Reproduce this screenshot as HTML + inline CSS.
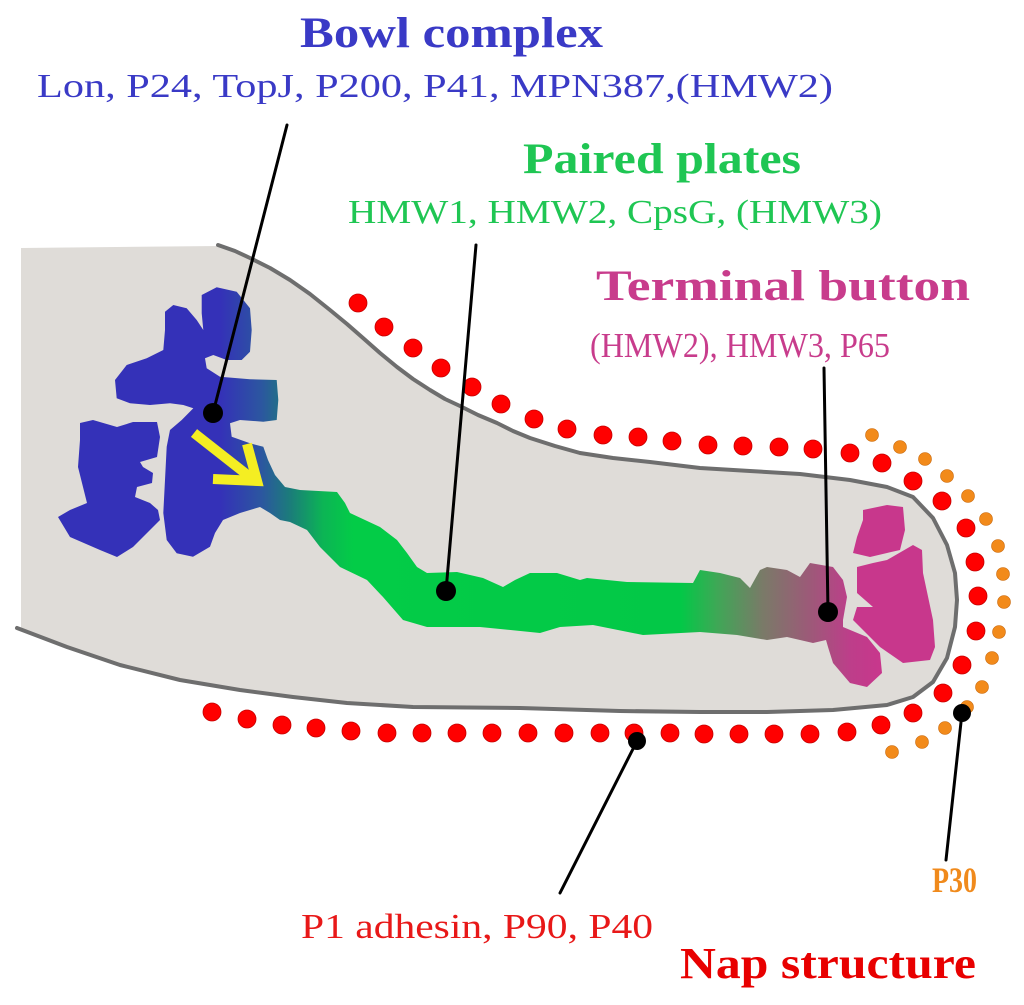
<!DOCTYPE html>
<html>
<head>
<meta charset="utf-8">
<style>
  html,body{margin:0;padding:0;background:#ffffff;}
  body{width:1024px;height:1005px;overflow:hidden;}
  svg{display:block;}
  text{font-family:"Liberation Serif", serif;}
</style>
</head>
<body>
<svg width="1024" height="1005" viewBox="0 0 1024 1005" xmlns="http://www.w3.org/2000/svg">
  <defs>
    <linearGradient id="grad" gradientUnits="userSpaceOnUse" x1="0" y1="0" x2="1024" y2="0">
      <stop offset="0" stop-color="#3431b8"/>
      <stop offset="0.215" stop-color="#3431b8"/>
      <stop offset="0.255" stop-color="#2c56a0"/>
      <stop offset="0.285" stop-color="#1a7f78"/>
      <stop offset="0.315" stop-color="#0cb455"/>
      <stop offset="0.345" stop-color="#03cc47"/>
      <stop offset="0.665" stop-color="#03c847"/>
      <stop offset="0.70" stop-color="#3ea856"/>
      <stop offset="0.745" stop-color="#7a7a68"/>
      <stop offset="0.79" stop-color="#9c5a78"/>
      <stop offset="0.83" stop-color="#bd3e8a"/>
      <stop offset="0.86" stop-color="#c8378c"/>
      <stop offset="1" stop-color="#c8378c"/>
    </linearGradient>
  </defs>

  <!-- capsule fill -->
  <polygon fill="#dfdcd8" points="21,248 218,246 235,251 250,258 270,268 290,280 310,294 330,310 347,324 363,338 380,353 397,367 413,379 430,390 445,399 460,406 478,415 497,423 513,431 530,438 555,446 580,453 613,458 650,462 700,468 750,471 800,474 850,480 887,487 913,497 933,518 947,545 955,573 957,600 955,627 947,658 933,682 913,697 887,705 833,710 767,712 700,712 620,711 520,708 413,707 347,703 293,697 240,690 180,680 120,665 67,647 17,628 21,628"/>
  <!-- capsule outline -->
  <polyline fill="none" stroke="#6e6e6e" stroke-width="4" stroke-linejoin="round" stroke-linecap="round" points="218,245 235,251 250,258 270,268 290,280 310,294 330,310 347,324 363,338 380,353 397,367 413,379 430,390 445,399 460,406 478,415 497,423 513,431 530,438 555,446 580,453 613,458 650,462 700,468 750,471 800,474 850,480 887,487 913,497 933,518 947,545 955,573 957,600 955,627 947,658 933,682 913,697 887,705 833,710 767,712 700,712 620,711 520,708 413,707 347,703 293,697 240,690 180,680 120,665 67,647 17,628"/>

  <!-- main gradient shape: bowl + plates + button base -->
  <polygon fill="url(#grad)" points="201.7,295 216.7,287.3 236.7,291.7 250,308.3 251.7,330 250,351.7 241.7,360 226.7,360 213.3,355 205,358.3 206.7,368.3 220,376.7 250,379.3 276.7,380 278.3,400 276.7,420 263.3,421.7 240,420 230,423.3 231.7,436.7 250,443.3 263.3,446.7 268,460 275,475 285,487 300,490 337,492 345,503 350,513 365,520 380,527 397,540 407,553 417,567 427,573 457,572 483,578 503,587 515,580 530,573 557,573 580,580 587,578 627,582 693,583 700,570 720,573 740,578 750,588 760,570 767,567 787,570 800,577 810,563 833,567 843,580 847,597 843,620 843,627 867,637 880,653 882,673 867,687 850,683 833,663 828,647 826,640 813,643 787,637 767,640 737,635 700,632 643,635 593,625 560,627 540,633 480,627 427,627 403,620 383,597 367,580 340,567 320,547 307,530 290,522 280,520 270,513 260,507 250,510 240,513 223,520 215,533 210,546.7 193,556.7 176.7,553.3 166.7,540 163.3,513 165,480 166.7,446.7 170,430 181.7,420 193.3,408.3 183.3,405 170,403.3 150,405 130,403.3 116.7,398.3 115,380 126.7,365 146.7,358.3 163.3,350 165,330 165,311.7 173.3,305 186.7,308.3 196.7,320 203.3,330 201.7,313.3"/>

  <!-- E piece -->
  <polygon fill="#3431b8" points="80,423 93,420 117,427 133,422 157,422 160,437 157,457 140,462 143,467 153,473 152,483 137,487 135,497 150,503 158,510 160,520 147,533 133,547 117,557 100,550 70,537 58,517 70,510 87,503 83,487 78,467 80,440"/>

  <!-- magenta pieces -->
  <polygon fill="#c8378c" points="863,510 887,505 903,507 905,530 900,550 887,553 870,557 853,553 857,537 863,520"/>
  <polygon fill="#c8378c" points="873,563 887,560 913,545 922,550 923,573 933,620 935,647 930,660 903,663 880,647 853,620 857,607 873,607 857,593 857,567"/>

  <!-- yellow arrow -->
  <g stroke="#f4ee22" stroke-width="10" fill="none" stroke-linecap="butt" stroke-linejoin="miter">
    <line x1="194" y1="433" x2="250" y2="477"/>
    <polyline points="213,479 257,481 247,444"/>
  </g>

  <!-- red dots -->
  <g fill="#ff0000" stroke="#c40000" stroke-width="0.8">
    <circle cx="358" cy="303" r="9"/><circle cx="384" cy="327" r="9"/><circle cx="413" cy="348" r="9"/>
    <circle cx="441" cy="368" r="9"/><circle cx="472" cy="387" r="9"/><circle cx="501" cy="404" r="9"/>
    <circle cx="534" cy="419" r="9"/><circle cx="567" cy="429" r="9"/><circle cx="603" cy="435" r="9"/>
    <circle cx="638" cy="437" r="9"/><circle cx="672" cy="441" r="9"/><circle cx="708" cy="445" r="9"/>
    <circle cx="743" cy="446" r="9"/><circle cx="779" cy="447" r="9"/><circle cx="813" cy="449" r="9"/>
    <circle cx="850" cy="453" r="9"/><circle cx="882" cy="463" r="9"/><circle cx="913" cy="481" r="9"/>
    <circle cx="942" cy="501" r="9"/><circle cx="966" cy="528" r="9"/><circle cx="975" cy="562" r="9"/>
    <circle cx="978" cy="596" r="9"/><circle cx="976" cy="631" r="9"/><circle cx="962" cy="665" r="9"/>
    <circle cx="943" cy="693" r="9"/><circle cx="913" cy="713" r="9"/><circle cx="881" cy="725" r="9"/>
    <circle cx="847" cy="732" r="9"/><circle cx="810" cy="734" r="9"/><circle cx="774" cy="734" r="9"/>
    <circle cx="739" cy="734" r="9"/><circle cx="704" cy="734" r="9"/><circle cx="670" cy="733" r="9"/>
    <circle cx="634" cy="733" r="9"/><circle cx="600" cy="733" r="9"/><circle cx="564" cy="733" r="9"/>
    <circle cx="528" cy="733" r="9"/><circle cx="492" cy="733" r="9"/><circle cx="457" cy="733" r="9"/>
    <circle cx="422" cy="733" r="9"/><circle cx="387" cy="733" r="9"/><circle cx="351" cy="731" r="9"/>
    <circle cx="316" cy="728" r="9"/><circle cx="282" cy="725" r="9"/><circle cx="247" cy="719" r="9"/>
    <circle cx="212" cy="712" r="9"/>
  </g>

  <!-- orange dots -->
  <g fill="#f28a1a" stroke="#c86a10" stroke-width="0.6">
    <circle cx="872" cy="435" r="6.5"/><circle cx="900" cy="447" r="6.5"/><circle cx="925" cy="459" r="6.5"/>
    <circle cx="947" cy="476" r="6.5"/><circle cx="968" cy="496" r="6.5"/><circle cx="986" cy="519" r="6.5"/>
    <circle cx="998" cy="546" r="6.5"/><circle cx="1003" cy="574" r="6.5"/><circle cx="1004" cy="602" r="6.5"/>
    <circle cx="999" cy="632" r="6.5"/><circle cx="992" cy="658" r="6.5"/><circle cx="982" cy="687" r="6.5"/>
    <circle cx="967" cy="707" r="6.5"/><circle cx="945" cy="728" r="6.5"/><circle cx="922" cy="742" r="6.5"/>
    <circle cx="892" cy="752" r="6.5"/>
  </g>

  <!-- connector lines -->
  <g stroke="#000" stroke-width="3" stroke-linecap="round">
    <line x1="287" y1="125" x2="213" y2="413"/>
    <line x1="476" y1="245" x2="446" y2="591"/>
    <line x1="824" y1="368" x2="828" y2="612"/>
    <line x1="637" y1="741" x2="560" y2="893"/>
    <line x1="962" y1="713" x2="946" y2="860"/>
  </g>
  <g fill="#000">
    <circle cx="213" cy="413" r="10"/>
    <circle cx="446" cy="591" r="10"/>
    <circle cx="828" cy="612" r="10"/>
    <circle cx="637" cy="741" r="9"/>
    <circle cx="962" cy="713" r="9"/>
  </g>

  <!-- labels -->
  <text x="300" y="47" font-size="43" font-weight="bold" fill="#3a3ac6" textLength="303" lengthAdjust="spacingAndGlyphs">Bowl complex</text>
  <text x="37" y="97" font-size="34" fill="#3a3ac6" textLength="796" lengthAdjust="spacingAndGlyphs">Lon, P24, TopJ, P200, P41, MPN387,(HMW2)</text>

  <text x="523" y="173" font-size="43" font-weight="bold" fill="#1fc653" textLength="278" lengthAdjust="spacingAndGlyphs">Paired plates</text>
  <text x="348" y="223" font-size="34" fill="#1fc653" textLength="534" lengthAdjust="spacingAndGlyphs">HMW1, HMW2, CpsG, (HMW3)</text>

  <text x="596" y="300" font-size="43" font-weight="bold" fill="#c83c8c" textLength="374" lengthAdjust="spacingAndGlyphs">Terminal button</text>
  <text x="590" y="357" font-size="35" fill="#c83c8c" textLength="300" lengthAdjust="spacingAndGlyphs">(HMW2), HMW3, P65</text>

  <text x="932" y="892" font-size="36" font-weight="bold" fill="#f08a1c" textLength="45" lengthAdjust="spacingAndGlyphs">P30</text>
  <text x="301" y="938" font-size="35" fill="#e81818" textLength="352" lengthAdjust="spacingAndGlyphs">P1 adhesin, P90, P40</text>
  <text x="680" y="978" font-size="44" font-weight="bold" fill="#e80000" textLength="296" lengthAdjust="spacingAndGlyphs">Nap structure</text>
</svg>
</body>
</html>
